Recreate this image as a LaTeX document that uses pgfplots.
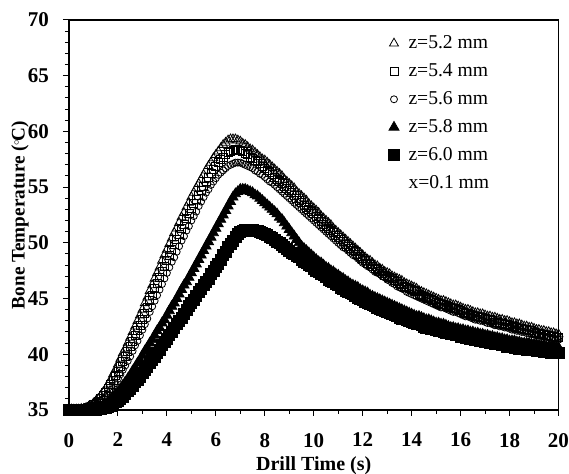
\documentclass[border=0pt]{standalone}
\usepackage{fontspec}
\setmainfont{Liberation Serif}
\usepackage{pgfplots}
\usepackage{pgfplotstable}
\pgfplotsset{compat=1.18}
\pgfplotstableread{
t A B C D E
0.0 35.0 35.0 35.0 35.0 35.0
0.1 35.0 35.0 35.0 35.0 35.0
0.2 35.0 35.0 35.0 35.0 35.0
0.3 35.0 35.0 35.0 35.0 35.0
0.4 35.0 35.0 35.0 35.0 35.0
0.5 35.1 35.0 35.0 35.0 35.0
0.6 35.1 35.1 35.0 35.0 35.0
0.7 35.2 35.1 35.1 35.0 35.0
0.8 35.3 35.2 35.1 35.0 35.0
0.9 35.4 35.3 35.2 35.1 35.0
1.0 35.6 35.5 35.3 35.1 35.0
1.1 35.8 35.6 35.4 35.2 35.0
1.2 36.0 35.8 35.6 35.3 35.1
1.3 36.3 36.0 35.8 35.3 35.1
1.4 36.6 36.3 36.0 35.4 35.2
1.5 36.9 36.6 36.2 35.5 35.2
1.6 37.3 36.9 36.5 35.7 35.3
1.7 37.7 37.3 36.8 35.9 35.4
1.8 38.2 37.7 37.1 36.1 35.5
1.9 38.6 38.1 37.4 36.4 35.7
2.0 39.1 38.5 37.8 36.6 35.8
2.1 39.6 38.9 38.2 36.9 36.0
2.2 40.1 39.4 38.6 37.2 36.2
2.3 40.5 39.8 39.0 37.5 36.4
2.4 41.0 40.3 39.4 37.8 36.7
2.5 41.5 40.7 39.8 38.1 36.9
2.6 42.0 41.2 40.3 38.5 37.2
2.7 42.5 41.7 40.8 38.8 37.5
2.8 43.0 42.1 41.2 39.2 37.7
2.9 43.5 42.6 41.7 39.5 38.0
3.0 44.0 43.1 42.2 39.9 38.3
3.1 44.6 43.7 42.7 40.3 38.6
3.2 45.1 44.2 43.2 40.6 38.9
3.3 45.7 44.8 43.8 41.0 39.2
3.4 46.2 45.3 44.3 41.3 39.5
3.5 46.8 45.9 44.8 41.7 39.8
3.6 47.3 46.4 45.3 42.1 40.1
3.7 47.8 46.9 45.8 42.4 40.4
3.8 48.4 47.4 46.3 42.8 40.8
3.9 48.9 47.9 46.8 43.1 41.1
4.0 49.4 48.4 47.3 43.5 41.4
4.1 49.9 48.9 47.8 43.9 41.7
4.2 50.4 49.4 48.3 44.3 42.0
4.3 50.9 49.9 48.7 44.6 42.4
4.4 51.3 50.3 49.2 45.0 42.7
4.5 51.8 50.8 49.7 45.4 43.0
4.6 52.3 51.3 50.2 45.8 43.3
4.7 52.7 51.7 50.6 46.2 43.6
4.8 53.2 52.2 51.1 46.5 44.0
4.9 53.6 52.6 51.5 46.9 44.3
5.0 54.1 53.1 52.0 47.3 44.6
5.1 54.5 53.5 52.4 47.7 44.9
5.2 54.9 53.9 52.8 48.1 45.2
5.3 55.3 54.3 53.3 48.5 45.6
5.4 55.7 54.7 53.7 48.9 45.9
5.5 56.1 55.1 54.1 49.3 46.2
5.6 56.5 55.5 54.5 49.7 46.5
5.7 56.9 55.9 54.8 50.1 46.8
5.8 57.2 56.2 55.2 50.5 47.2
5.9 57.6 56.6 55.5 50.9 47.5
6.0 57.9 56.9 55.8 51.3 47.8
6.1 58.2 57.2 56.1 51.7 48.1
6.2 58.5 57.5 56.3 52.1 48.5
6.3 58.8 57.7 56.5 52.5 48.9
6.4 59.0 57.9 56.7 52.9 49.2
6.5 59.2 58.1 56.9 53.3 49.6
6.6 59.3 58.2 57.0 53.7 49.9
6.7 59.3 58.3 57.1 54.1 50.2
6.8 59.3 58.4 57.2 54.4 50.5
6.9 59.2 58.4 57.2 54.6 50.8
7.0 59.1 58.3 57.2 54.8 51.0
7.1 58.9 58.2 57.1 54.8 51.1
7.2 58.8 58.0 57.0 54.8 51.2
7.3 58.6 57.9 56.9 54.7 51.2
7.4 58.4 57.7 56.8 54.6 51.2
7.5 58.3 57.6 56.7 54.5 51.2
7.6 58.1 57.4 56.5 54.3 51.1
7.7 57.9 57.3 56.4 54.2 51.1
7.8 57.7 57.1 56.2 54.0 51.0
7.9 57.5 56.9 56.1 53.8 50.9
8.0 57.4 56.7 55.9 53.6 50.8
8.1 57.2 56.5 55.7 53.4 50.7
8.2 57.0 56.3 55.5 53.2 50.5
8.3 56.8 56.1 55.4 53.0 50.4
8.4 56.6 55.9 55.2 52.8 50.3
8.5 56.4 55.7 55.0 52.6 50.1
8.6 56.2 55.5 54.8 52.3 50.0
8.7 56.0 55.3 54.6 52.1 49.8
8.8 55.7 55.1 54.4 51.8 49.6
8.9 55.5 54.9 54.2 51.5 49.5
9.0 55.3 54.7 54.0 51.2 49.3
9.1 55.1 54.5 53.8 50.9 49.1
9.2 54.9 54.3 53.6 50.6 49.0
9.3 54.6 54.0 53.4 50.3 48.8
9.4 54.4 53.8 53.2 50.0 48.7
9.5 54.2 53.6 53.0 49.7 48.5
9.6 54.0 53.4 52.8 49.5 48.3
9.7 53.8 53.2 52.6 49.3 48.2
9.8 53.5 53.0 52.4 49.1 48.0
9.9 53.3 52.8 52.2 48.9 47.9
10.0 53.1 52.6 52.0 48.7 47.7
10.1 52.9 52.4 51.8 48.5 47.5
10.2 52.7 52.2 51.6 48.3 47.4
10.3 52.4 51.9 51.4 48.2 47.2
10.4 52.2 51.7 51.2 48.0 47.1
10.5 52.0 51.5 51.0 47.8 46.9
10.6 51.8 51.3 50.8 47.7 46.7
10.7 51.6 51.1 50.6 47.5 46.6
10.8 51.3 50.9 50.4 47.4 46.5
10.9 51.1 50.7 50.2 47.2 46.3
11.0 50.9 50.5 50.0 47.1 46.2
11.1 50.7 50.3 49.8 46.9 46.0
11.2 50.5 50.1 49.6 46.8 45.9
11.3 50.3 49.9 49.5 46.6 45.7
11.4 50.1 49.7 49.3 46.5 45.6
11.5 49.9 49.5 49.1 46.3 45.5
11.6 49.7 49.3 48.9 46.2 45.4
11.7 49.5 49.2 48.8 46.1 45.2
11.8 49.3 49.0 48.6 46.0 45.1
11.9 49.1 48.8 48.4 45.8 45.0
12.0 48.9 48.6 48.2 45.7 44.9
12.1 48.7 48.4 48.1 45.6 44.7
12.2 48.5 48.2 47.9 45.5 44.6
12.3 48.4 48.1 47.8 45.3 44.5
12.4 48.2 47.9 47.6 45.2 44.4
12.5 48.0 47.7 47.4 45.1 44.3
12.6 47.9 47.6 47.3 45.0 44.2
12.7 47.7 47.4 47.2 44.9 44.1
12.8 47.6 47.3 47.0 44.8 44.0
12.9 47.4 47.1 46.9 44.7 43.9
13.0 47.3 47.0 46.7 44.6 43.8
13.1 47.2 46.9 46.6 44.5 43.7
13.2 47.0 46.8 46.4 44.4 43.6
13.3 46.9 46.6 46.3 44.3 43.5
13.4 46.8 46.5 46.1 44.2 43.4
13.5 46.7 46.4 46.0 44.1 43.3
13.6 46.6 46.3 45.9 44.0 43.2
13.7 46.4 46.1 45.8 43.9 43.2
13.8 46.3 46.0 45.6 43.8 43.1
13.9 46.2 45.9 45.5 43.7 43.0
14.0 46.1 45.8 45.4 43.6 42.9
14.1 46.0 45.7 45.3 43.5 42.8
14.2 45.9 45.6 45.2 43.4 42.7
14.3 45.7 45.4 45.1 43.4 42.7
14.4 45.6 45.3 45.0 43.3 42.6
14.5 45.5 45.2 44.9 43.2 42.5
14.6 45.4 45.1 44.8 43.1 42.4
14.7 45.3 45.0 44.7 43.1 42.4
14.8 45.2 44.9 44.6 43.0 42.3
14.9 45.1 44.8 44.5 42.9 42.3
15.0 45.0 44.7 44.4 42.8 42.2
15.1 44.9 44.6 44.3 42.8 42.1
15.2 44.8 44.5 44.2 42.7 42.1
15.3 44.8 44.5 44.2 42.7 42.0
15.4 44.7 44.4 44.1 42.6 41.9
15.5 44.6 44.3 44.0 42.5 41.9
15.6 44.5 44.2 43.9 42.4 41.8
15.7 44.4 44.1 43.8 42.4 41.8
15.8 44.4 44.1 43.8 42.3 41.7
15.9 44.3 44.0 43.7 42.3 41.7
16.0 44.2 43.9 43.6 42.2 41.6
16.1 44.1 43.8 43.5 42.2 41.6
16.2 44.0 43.7 43.4 42.1 41.5
16.3 44.0 43.7 43.4 42.1 41.5
16.4 43.9 43.6 43.3 42.0 41.4
16.5 43.8 43.5 43.2 42.0 41.4
16.6 43.7 43.4 43.1 41.9 41.3
16.7 43.7 43.4 43.1 41.9 41.3
16.8 43.6 43.3 43.0 41.8 41.2
16.9 43.6 43.3 43.0 41.8 41.2
17.0 43.5 43.2 42.9 41.7 41.1
17.1 43.4 43.1 42.8 41.7 41.1
17.2 43.4 43.1 42.8 41.6 41.0
17.3 43.3 43.0 42.7 41.6 41.0
17.4 43.3 42.9 42.6 41.5 40.9
17.5 43.2 42.9 42.6 41.5 40.9
17.6 43.1 42.8 42.5 41.4 40.9
17.7 43.1 42.8 42.5 41.4 40.8
17.8 43.0 42.7 42.4 41.3 40.8
17.9 43.0 42.7 42.4 41.3 40.7
18.0 42.9 42.6 42.3 41.2 40.7
18.1 42.8 42.5 42.2 41.2 40.7
18.2 42.8 42.5 42.2 41.2 40.6
18.3 42.7 42.4 42.1 41.1 40.6
18.4 42.7 42.3 42.1 41.1 40.5
18.5 42.6 42.3 42.0 41.0 40.5
18.6 42.5 42.2 42.0 41.0 40.5
18.7 42.5 42.2 41.9 41.0 40.4
18.8 42.4 42.1 41.9 41.0 40.4
18.9 42.4 42.1 41.8 40.9 40.4
19.0 42.3 42.0 41.8 40.9 40.4
19.1 42.2 41.9 41.7 40.9 40.3
19.2 42.2 41.9 41.7 40.8 40.3
19.3 42.1 41.8 41.6 40.8 40.3
19.4 42.1 41.8 41.6 40.8 40.2
19.5 42.0 41.7 41.5 40.7 40.2
19.6 42.0 41.7 41.5 40.7 40.2
19.7 41.9 41.6 41.4 40.7 40.1
19.8 41.9 41.6 41.4 40.7 40.1
19.9 41.8 41.5 41.3 40.6 40.1
20.0 41.8 41.5 41.3 40.6 40.1
}\datatable
\begin{document}
\begin{tikzpicture}
\begin{axis}[
  scale only axis,
  width=244.75pt, height=195pt,
  xmin=0, xmax=20, ymin=35, ymax=70,
  xtick={0,2,...,20}, ytick={35,40,...,70},
  minor x tick num=1, minor y tick num=4,
  tick pos=left, tick align=outside,
  major tick length=3pt, minor tick length=2pt,
  axis line style={line width=0.6pt},
  every tick/.style={black, line width=0.5pt},
  /pgf/number format/assume math mode=true,
  ticklabel style={font=\fontsize{10.5}{12}\selectfont\bfseries},
  xticklabel style={yshift=-5pt},
  yticklabel style={xshift=-3.5pt},
  xlabel={\textbf{Drill Time (s)}},
  ylabel={\textbf{Bone Temperature (\kern-0.05em\raisebox{0.6ex}{\scalebox{0.55}{$\circ$}}\kern-0.05em C)}},
  label style={font=\fontsize{9.6}{11}\selectfont},
  xlabel style={at={(axis description cs:0.5,-0.1436)}, anchor=center, font=\fontsize{10}{12}\selectfont},
  ylabel style={at={(axis description cs:-0.1,0.5)}, anchor=center},
  clip=false,
  legend style={draw=none, fill=none, at={(0.616,0.982)}, anchor=north west,
    font=\fontsize{9.8}{11}\selectfont, row sep=2.0pt,
    /tikz/every odd column/.append style={column sep=2.5pt}},
  legend cell align=left,
]
\addplot[only marks, mark=triangle, mark size=2.6pt, mark options={line width=0.4pt, fill=white}] table[x=t,y=A] {\datatable};
\addlegendentry{z=5.2 mm}
\addplot[only marks, mark=square, mark size=2.0pt, mark options={line width=0.4pt, fill=white}] table[x=t,y=B] {\datatable};
\addlegendentry{z=5.4 mm}
\addplot[only marks, mark=o, mark size=1.75pt, mark options={line width=0.4pt, fill=white}] table[x=t,y=C] {\datatable};
\addlegendentry{z=5.6 mm}
\addplot[only marks, mark=triangle*, mark size=2.9pt, mark options={fill=black}] table[x=t,y=D] {\datatable};
\addlegendentry{z=5.8 mm}
\addplot[only marks, mark=square*, mark size=2.75pt, mark options={fill=black}] table[x=t,y=E] {\datatable};
\addlegendentry{z=6.0 mm}
\addlegendimage{empty legend}
\addlegendentry{x=0.1 mm}
\end{axis}
\pgfresetboundingbox
\path (current axis.south west) ++(-34.5pt,-32pt) coordinate (bbl);
\path (current axis.north east) ++(5.25pt,10pt) coordinate (btr);
\useasboundingbox (bbl) rectangle (btr);
\end{tikzpicture}
\end{document}
